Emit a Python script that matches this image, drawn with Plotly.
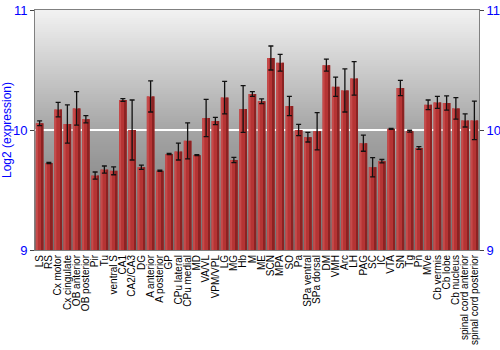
import plotly.graph_objects as go

categories = ["LS", "RS", "Cx motor", "Cx cingulate", "OB anterior", "OB posterior", "Pir", "Tu",
              "ventral S", "CA1", "CA2/CA3", "DG", "A anterior", "A posterior", "GP", "CPu lateral",
              "CPu medial", "MD", "VA/VL", "VPM/VPL", "LG", "MG", "Hb", "M", "ME", "SCN", "MPA", "SO",
              "Pa", "SPa ventral", "SPa dorsal", "DM", "VMH", "Arc", "LH", "PAG", "SC", "IC", "VTA",
              "SN", "Tg", "Pn", "MVe", "Cb vermis", "Cb lobe", "Cb nucleus", "spinal cord anterior",
              "spinal cord posterior"]
values = [10.056, 9.725, 10.17, 10.05, 10.18, 10.09, 9.62, 9.67,
          9.66, 10.25, 10.0, 9.69, 10.28, 9.66, 9.80, 9.82,
          9.91, 9.79, 10.10, 10.075, 10.27, 9.75, 10.175, 10.30, 10.24, 10.60, 10.56, 10.20,
          10.0, 9.94, 9.99, 10.54, 10.36, 10.33, 10.43, 9.89, 9.69, 9.74, 10.01,
          10.35, 9.99, 9.85, 10.21, 10.23, 10.225, 10.18, 10.08, 10.08]
errors = [0.02, 0.004, 0.06, 0.16, 0.14, 0.03, 0.03, 0.03,
          0.033, 0.012, 0.25, 0.018, 0.13, 0.005, 0.005, 0.07,
          0.15, 0.004, 0.155, 0.03, 0.135, 0.022, 0.195, 0.02, 0.02, 0.10, 0.07, 0.08,
          0.047, 0.04, 0.155, 0.05, 0.08, 0.18, 0.14, 0.067, 0.08, 0.014, 0.004,
          0.064, 0.008, 0.011, 0.04, 0.05, 0.06, 0.09, 0.055, 0.16]
y_ticks = [9, 10, 11]
y_title = "Log2 (expression)"

Y0, Y1 = 9, 11
fig = go.Figure()

# bar body with faux horizontal gradient
fig.add_trace(go.Bar(x=categories, y=[v - Y0 for v in values], base=Y0, width=0.82, offset=-0.41,
                     marker=dict(color="#b53434", line=dict(width=0)), hoverinfo="skip"))
fig.add_trace(go.Bar(x=categories, y=[v - Y0 for v in values], base=Y0, width=0.22, offset=-0.41,
                     marker=dict(color="#c64a4a", line=dict(width=0)), hoverinfo="skip"))
fig.add_trace(go.Bar(x=categories, y=[v - Y0 for v in values], base=Y0, width=0.2, offset=0.21,
                     marker=dict(color="#8c2222", line=dict(width=0)), hoverinfo="skip"))
# error bars
fig.add_trace(go.Scatter(x=categories, y=values, mode="markers",
                         marker=dict(size=1, color="rgba(0,0,0,0)"),
                         error_y=dict(type="data", array=errors, visible=True, color="#111111",
                                      thickness=1.3, width=2.5)))
# right axis companion
fig.add_trace(go.Scatter(x=[categories[0]], y=[Y0], yaxis="y2", mode="markers",
                         marker=dict(size=1, color="rgba(0,0,0,0)"), hoverinfo="skip"))

# vertical background gradient (overlapping strips, bottom to top, to avoid seams)
def lerp(c1, c2, t):
    return tuple(round(a + (b - a) * t) for a, b in zip(c1, c2))

top = (242, 242, 242)
mid = (165, 165, 165)
bot = (112, 112, 112)
n = 120
shapes = []
for i in range(n):
    ya = Y0 + (Y1 - Y0) * i / n
    yc = ya + (Y1 - Y0) / n / 2
    if yc >= 10:
        c = lerp(mid, top, (yc - 10) / 1.0)
    else:
        c = lerp(bot, mid, (yc - 9) / 1.0)
    shapes.append(dict(type="rect", xref="paper", yref="y", x0=0, x1=1, y0=ya, y1=Y1,
                       fillcolor="rgb(%d,%d,%d)" % c, line=dict(width=0), layer="below"))

fig.update_layout(
    width=500, height=350,
    margin=dict(l=35, r=21, t=10, b=100),
    paper_bgcolor="white", plot_bgcolor="#a0a0a0",
    barmode="overlay", showlegend=False,
    shapes=shapes,
    font=dict(family="Liberation Sans, Arial, sans-serif"),
    xaxis=dict(type="category", tickangle=-90, tickfont=dict(size=10, color="black"),
               tickmode="array", tickvals=categories, ticktext=categories, automargin=False,
               showline=True, linecolor="#808080", mirror=True, ticks="", showgrid=False,
               range=[-0.5, len(categories) - 0.5]),
    yaxis=dict(range=[Y0, Y1], tickvals=y_ticks, tickfont=dict(size=13, color="#0000ff"),
               title=dict(text=y_title, font=dict(size=12, color="#0000ff"), standoff=4),
               showline=True, linecolor="#808080", ticks="outside", ticklen=4, tickcolor="#444",
               showgrid=True, gridcolor="white", gridwidth=1.5, zeroline=False, automargin=False),
    yaxis2=dict(range=[Y0, Y1], tickvals=y_ticks, overlaying="y", side="right",
                tickfont=dict(size=13, color="#0000ff"), showline=True, linecolor="#808080",
                ticks="outside", ticklen=4, tickcolor="#444", showgrid=False, zeroline=False,
                automargin=False),
)

fig.write_html("out.html")
